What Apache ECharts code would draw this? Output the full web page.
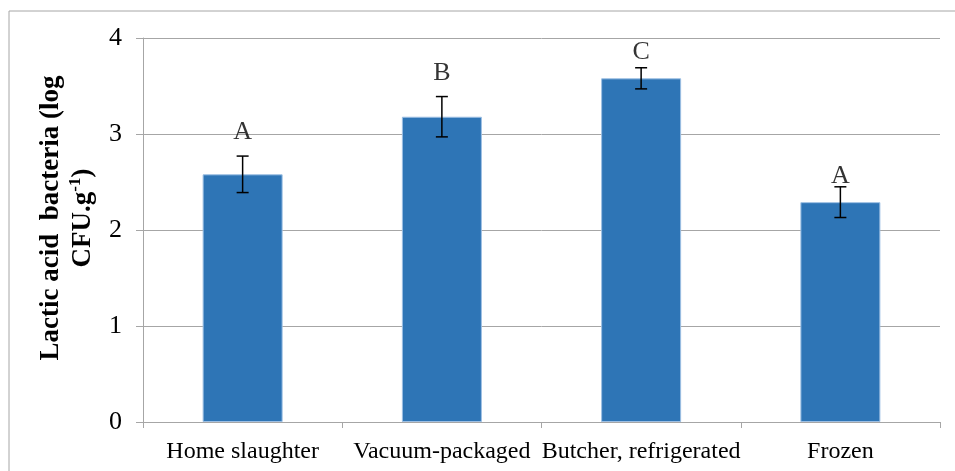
<!DOCTYPE html>
<html>
<head>
<meta charset="utf-8">
<script src="https://cdn.jsdelivr.net/npm/echarts@6/dist/echarts.min.js"></script>
<style>
html,body{margin:0;padding:0;background:#fff;}
#c{width:955px;height:471px;}
</style>
</head>
<body>
<div id="c"></div>
<script>
var categories = ['Home slaughter', 'Vacuum-packaged', 'Butcher, refrigerated', 'Frozen'];
var means = [2.58, 3.18, 3.58, 2.29];
var errors = [0.19, 0.21, 0.11, 0.16];
var letters = ['A', 'B', 'C', 'A'];
var letterY = [3.02, 3.63, 3.85, 2.56];
var yTicks = [0, 1, 2, 3, 4];

var chart = echarts.init(document.getElementById('c'));
var serif = '"Liberation Serif", "Times New Roman", serif';
var gridColor = '#a6a6a6';

chart.setOption({
  animation: false,
  backgroundColor: '#fff',
  grid: { left: 143, right: 15, top: 38, bottom: 49, containLabel: false },
  xAxis: {
    type: 'category',
    data: categories,
    boundaryGap: true,
    axisLine: { lineStyle: { color: gridColor, width: 1 } },
    axisTick: { show: true, length: 6, lineStyle: { color: gridColor } },
    axisLabel: { color: '#000', fontFamily: serif, fontSize: 24, margin: 18, interval: 0 }
  },
  yAxis: {
    type: 'value',
    min: yTicks[0],
    max: yTicks[yTicks.length - 1],
    interval: 1,
    axisLine: { show: true, lineStyle: { color: gridColor, width: 1 } },
    axisTick: { show: true, length: 7, lineStyle: { color: gridColor } },
    axisLabel: { color: '#000', fontFamily: serif, fontSize: 26, margin: 21 },
    splitLine: { show: true, lineStyle: { color: gridColor, width: 1 } }
  },
  graphic: [
    { type: 'line', shape: { x1: 9, y1: 11, x2: 955, y2: 11 }, style: { stroke: gridColor, lineWidth: 1 } },
    { type: 'line', shape: { x1: 9, y1: 11, x2: 9, y2: 471 }, style: { stroke: gridColor, lineWidth: 1 } },
    {
      type: 'text', x: 67, y: 218, rotation: Math.PI / 2,
      style: {
        text: 'Lactic acid  bacteria (log\n{n|CFU.g}{s|-1}{n|)}',
        font: 'bold 27px ' + serif,
        fill: '#000',
        align: 'center',
        verticalAlign: 'middle',
        lineHeight: 32,
        rich: {
          n: { font: 'bold 27px ' + serif, fill: '#000', lineHeight: 32 },
          s: { font: 'bold 17px ' + serif, fill: '#000', verticalAlign: 'top', padding: [0, 0, 10, 0], lineHeight: 32 }
        }
      }
    }
  ],
  series: [
    {
      type: 'bar',
      data: means,
      barWidth: 80,
      itemStyle: { color: '#2e75b6', borderColor: '#9dbfe3', borderWidth: 1 },
      z: 2
    },
    {
      type: 'custom',
      data: means.map(function (m, i) { return [i, m - errors[i], m + errors[i]]; }),
      renderItem: function (params, api) {
        var x = api.coord([api.value(0), 0])[0];
        var lo = api.coord([api.value(0), api.value(1)])[1];
        var hi = api.coord([api.value(0), api.value(2)])[1];
        var hw = 6;
        var st = { stroke: '#000', lineWidth: 1.5 };
        return {
          type: 'group',
          children: [
            { type: 'line', shape: { x1: x, y1: lo, x2: x, y2: hi }, style: st },
            { type: 'line', shape: { x1: x - hw, y1: hi, x2: x + hw, y2: hi }, style: st },
            { type: 'line', shape: { x1: x - hw, y1: lo, x2: x + hw, y2: lo }, style: st }
          ]
        };
      },
      z: 3
    },
    {
      type: 'scatter',
      data: letterY.map(function (v, i) { return [i, v]; }),
      symbolSize: 0,
      label: {
        show: true,
        position: 'inside',
        formatter: function (p) { return letters[p.dataIndex]; },
        color: '#000',
        fontFamily: serif,
        fontSize: 26
      },
      z: 4
    }
  ]
});
</script>
</body>
</html>
